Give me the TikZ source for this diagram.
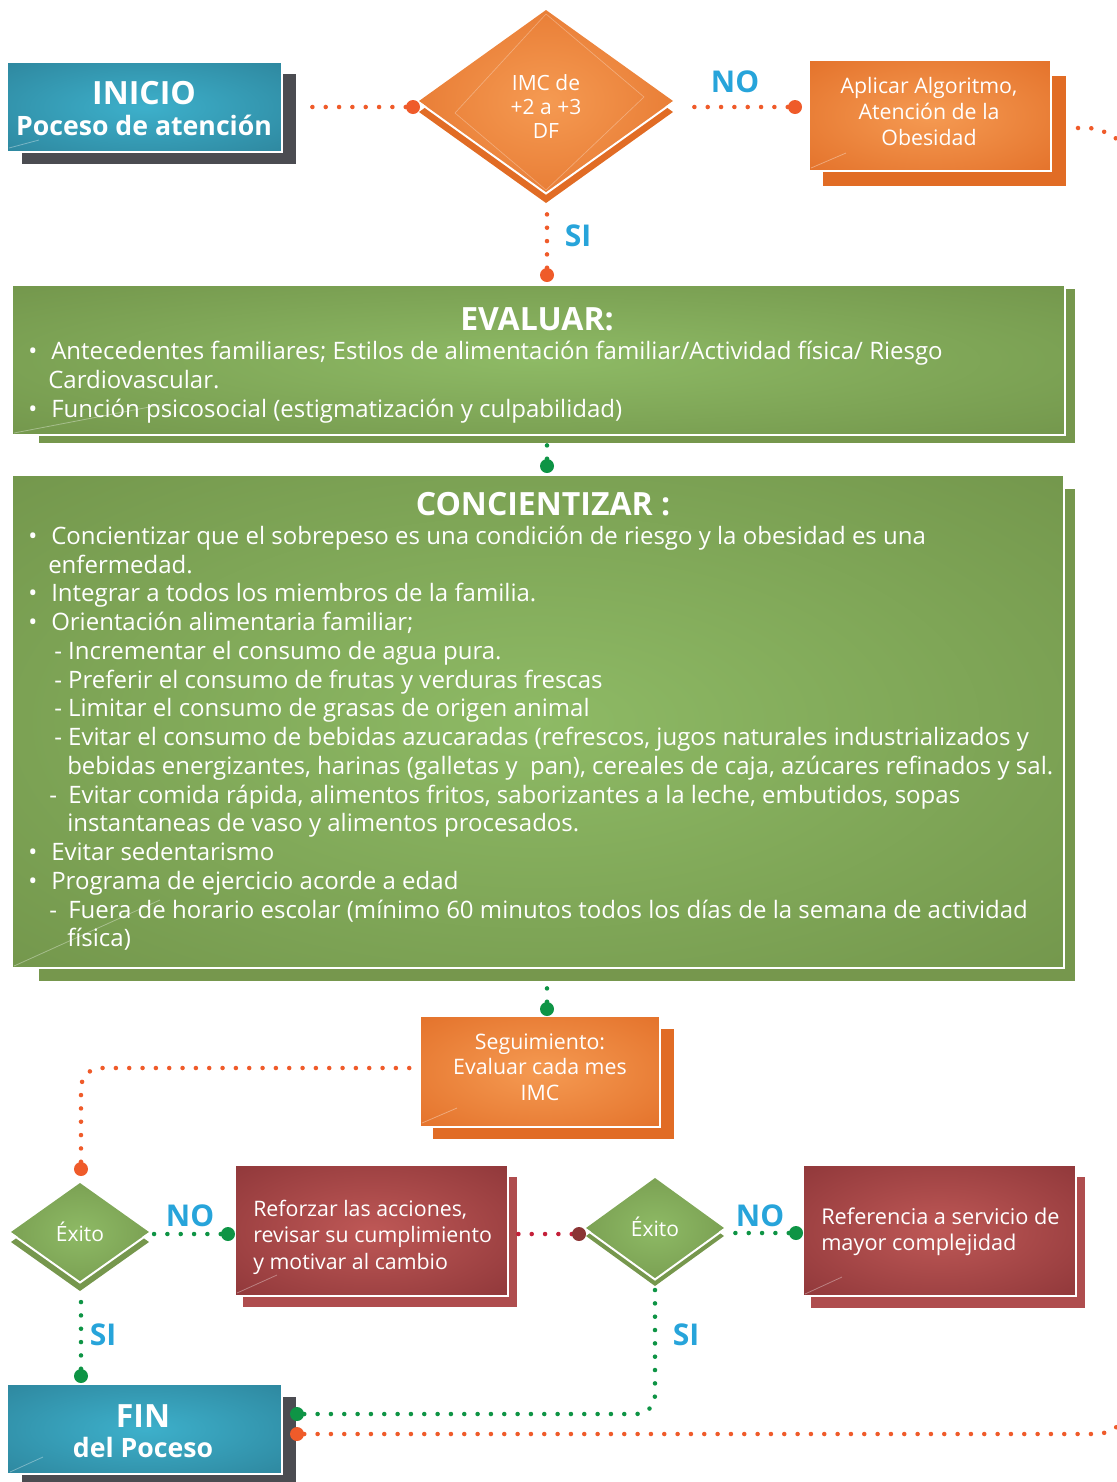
\documentclass[tikz,border=0pt]{standalone}
\usepackage{fontspec}
\setmainfont{Open Sans}
\usetikzlibrary{shapes.geometric,calc}
\definecolor{tealE}{HTML}{2C8198}
\definecolor{tealC}{HTML}{3DB0CB}
\definecolor{grayS}{HTML}{4B4C51}
\definecolor{orE}{HTML}{E16C25}
\definecolor{orC}{HTML}{F59A52}
\definecolor{grE}{HTML}{6F9148}
\definecolor{grC}{HTML}{8EBA65}
\definecolor{grS}{HTML}{76974D}
\definecolor{rdE}{HTML}{893336}
\definecolor{rdC}{HTML}{BE5856}
\definecolor{rdS}{HTML}{AF4D4E}
\definecolor{dotO}{HTML}{EF5B2A}
\definecolor{dotG}{HTML}{0E9445}
\definecolor{dotR}{HTML}{C4203A}
\definecolor{dotRB}{HTML}{8B3535}
\definecolor{lblue}{HTML}{27A4DA}
\pgfdeclareradialshading{tealglow}{\pgfpoint{0bp}{0bp}}{color(0bp)=(tealC); color(42bp)=(tealE); color(75bp)=(tealE)}
\pgfdeclareradialshading{orglow}{\pgfpoint{0bp}{0bp}}{color(0bp)=(orC); color(42bp)=(orE); color(75bp)=(orE)}
\pgfdeclareradialshading{grglow}{\pgfpoint{0bp}{0bp}}{color(0bp)=(grC); color(42bp)=(grE); color(75bp)=(grE)}
\pgfdeclareradialshading{rdglow}{\pgfpoint{0bp}{0bp}}{color(0bp)=(rdC); color(42bp)=(rdE); color(75bp)=(rdE)}
\pgfdeclarelayer{bg}
\pgfdeclarelayer{fg}
\pgfsetlayers{bg,main,fg}
\tikzset{
  boxn/.style={rectangle, inner sep=0pt, outer sep=0pt, shade},
  dia/.style={diamond, inner sep=0pt, outer sep=0pt, shade},
  wline/.style={white, line width=1.5pt},
  gloss/.style={white, opacity=0.35, line width=0.6pt},
  txt/.style={text=white, align=center, inner sep=0pt},
  bodyline/.style={text=white, inner sep=0pt, anchor=base west, font=\fontsize{18}{21.6}\selectfont},
  ttl/.style={text=white, inner sep=0pt, anchor=base, font=\fontsize{24}{28}\selectfont\bfseries},
  endtxt/.style={text=white, inner sep=0pt, anchor=base, font=\fontsize{20}{24}\selectfont\bfseries},
  dotline/.style={line width=3.4pt, line cap=round, dash pattern=on 0pt off 10pt},
  bigdot/.style={circle, inner sep=0pt, minimum size=10.5pt},
  lbl/.style={text=lblue, inner sep=0pt, font=\fontsize{22.5}{24}\selectfont\bfseries},
}
\newcommand{\bul}{\makebox[17.25pt][l]{•}}
\begin{document}
\begin{tikzpicture}[x=0.75pt,y=-0.75pt]
\useasboundingbox (0,0) rectangle (1117,1482);

% ---------- boxes ----------
\node[boxn, shading=tealglow, minimum width=204.75pt, minimum height=66pt] (inicio) at (144.5,107) {};
\node[dia, shading=orglow, minimum width=190.5pt, minimum height=136.5pt] (imc) at (546,101) {};
\node[boxn, shading=orglow, minimum width=180pt, minimum height=81.75pt] (aplicar) at (930,115.5) {};
\node[boxn, shading=grglow, minimum width=788.25pt, minimum height=111pt] (evaluar) at (538.5,360) {};
\node[boxn, shading=grglow, minimum width=787.5pt, minimum height=368.25pt] (conc) at (538,721.5) {};
\node[boxn, shading=orglow, minimum width=178.5pt, minimum height=81.75pt] (seguim) at (540,1071.5) {};
\node[dia, shading=grglow, minimum width=103.5pt, minimum height=73.5pt] (exito1) at (80,1232) {};
\node[boxn, shading=rdglow, minimum width=203.25pt, minimum height=96.75pt] (reforzar) at (371.5,1230.5) {};
\node[dia, shading=grglow, minimum width=103.5pt, minimum height=75pt] (exito2) at (655,1228) {};
\node[boxn, shading=rdglow, minimum width=203.25pt, minimum height=96.75pt] (referencia) at (939.5,1230.5) {};
\node[boxn, shading=tealglow, minimum width=204.75pt, minimum height=66pt] (fin) at (144.5,1429) {};

% ---------- shadows ----------
\begin{pgfonlayer}{bg}
\fill[grayS] ($(inicio.north west)+(14,11)$) rectangle ($(inicio.south east)+(15,13)$);
\fill[orE] ($(imc.west)+(0,11)$) -- ($(imc.south)+(0,11)$) -- ($(imc.east)+(0,11)$) -- ($(imc.north)+(0,11)$) -- cycle;
\fill[orE] ($(aplicar.north west)+(13,15)$) rectangle ($(aplicar.south east)+(16,16)$);
\fill[grS] ($(evaluar.north west)+(26,3)$) rectangle ($(evaluar.south east)+(11,9)$);
\fill[grS] ($(conc.north west)+(26,13)$) rectangle ($(conc.south east)+(12,14)$);
\fill[orE] ($(seguim.north west)+(12,12)$) rectangle ($(seguim.south east)+(15,13)$);
\fill[grS] ($(exito1.west)+(0,10)$) -- ($(exito1.south)+(0,10)$) -- ($(exito1.east)+(0,10)$) -- ($(exito1.north)+(0,10)$) -- cycle;
\fill[rdS] ($(reforzar.north west)+(7,11)$) rectangle ($(reforzar.south east)+(10,12)$);
\fill[grS] ($(exito2.west)+(0,8)$) -- ($(exito2.south)+(0,8)$) -- ($(exito2.east)+(0,8)$) -- ($(exito2.north)+(0,8)$) -- cycle;
\fill[rdS] ($(referencia.north west)+(7,11)$) rectangle ($(referencia.south east)+(10,13)$);
\fill[grayS] ($(fin.north west)+(14,12)$) rectangle ($(fin.south east)+(15,9)$);
\end{pgfonlayer}

% ---------- white borders ----------
\foreach \n in {inicio,aplicar,evaluar,conc,seguim,reforzar,referencia,fin}{
  \draw[wline] ($(\n.north east)+(1,0)$) -- ($(\n.south east)+(1,1)$) -- ($(\n.south west)+(0,1)$);
}
\foreach \n in {imc,exito1,exito2}{
  \draw[wline] ($(\n.west)+(0,1.5)$) -- ($(\n.south)+(0,1.5)$) -- ($(\n.east)+(0,1.5)$);
}
\draw[white, opacity=0.3, line width=0.5pt] (546,14) -- (644,97) -- (546,190) -- (455,113) -- cycle;

% ---------- gloss lines ----------
\draw[gloss] (9,148) -- (39,140);
\draw[gloss] (811,168) -- (846,153);
\draw[gloss] (14,433) -- (160,405);
\draw[gloss] (14,966) -- (160,900);
\draw[gloss] (422,1123) -- (457,1108);
\draw[gloss] (237,1293) -- (277,1275);
\draw[gloss] (805,1294) -- (842,1277);
\draw[gloss] (10,1472) -- (43,1457);

% ---------- texts ----------
\node[ttl] (inicioT1) at (144,104) {INICIO};
\node[endtxt] (inicioT2) at (144,135) {Poceso de atención};
\node[txt, font=\fontsize{15.75}{18}\selectfont] (imcT) at (546,107) {IMC de\\+2 a +3\\DF};
\node[txt, font=\fontsize{16}{19.5}\selectfont] (aplicarT) at (929,111) {Aplicar Algoritmo,\\Atención de la\\Obesidad};

\node[ttl] (evalT) at (537,330) {EVALUAR:};
\node[bodyline] (ev1) at (28,359.5) {\bul Antecedentes familiares; Estilos de alimentación familiar/Actividad física/ Riesgo};
\node[bodyline] (ev2) at (48,388.5) {Cardiovascular.};
\node[bodyline] (ev3) at (28,417.5) {\bul Función psicosocial (estigmatización y culpabilidad)};

\node[ttl] (concT) at (543,515) {CONCIENTIZAR :};
\node[bodyline] (c1) at (28,544.3) {\bul Concientizar que el sobrepeso es una condición de riesgo y la obesidad es una};
\node[bodyline] (c2) at (48,573.05) {enfermedad.};
\node[bodyline] (c3) at (28,601.8) {\bul Integrar a todos los miembros de la familia.};
\node[bodyline] (c4) at (28,630.55) {\bul Orientación alimentaria familiar;};
\node[bodyline] (c5) at (54,659.3) {- Incrementar el consumo de agua pura.};
\node[bodyline] (c6) at (54,688.05) {- Preferir el consumo de frutas y verduras frescas};
\node[bodyline] (c7) at (54,716.8) {- Limitar el consumo de grasas de origen animal};
\node[bodyline] (c8) at (54,745.55) {- Evitar el consumo de bebidas azucaradas (refrescos, jugos naturales industrializados y};
\node[bodyline] (c9) at (67,774.3) {bebidas energizantes, harinas (galletas y~ pan), cereales de caja, azúcares refinados y sal.};
\node[bodyline] (c10) at (49,803.05) {\makebox[14.25pt][l]{-}Evitar comida rápida, alimentos fritos, saborizantes a la leche, embutidos, sopas};
\node[bodyline] (c11) at (67,831.8) {instantaneas de vaso y alimentos procesados.};
\node[bodyline] (c12) at (28,860.55) {\bul Evitar sedentarismo};
\node[bodyline] (c13) at (28,889.3) {\bul Programa de ejercicio acorde a edad};
\node[bodyline] (c14) at (49,918.05) {\makebox[14.25pt][l]{-}Fuera de horario escolar (mínimo 60 minutos todos los días de la semana de actividad};
\node[bodyline] (c15) at (67,946.8) {física)};

\node[txt, font=\fontsize{16}{19.2}\selectfont] (seguimT) at (540,1067) {Seguimiento:\\Evaluar cada mes\\IMC};
\node[txt, font=\fontsize{15.75}{18}\selectfont] (ex1T) at (80,1232) {Éxito};
\node[txt, font=\fontsize{15.75}{18}\selectfont] (ex2T) at (655,1227) {Éxito};
\node[txt, align=left, anchor=west, font=\fontsize{16}{19.8}\selectfont] (reforzarT) at (253,1237) {Reforzar las acciones,\\revisar su cumplimiento\\y motivar al cambio};
\node[txt, align=left, anchor=west, font=\fontsize{16.3}{19.8}\selectfont] (referenciaT) at (821,1231.5) {Referencia a servicio de\\mayor complejidad};
\node[ttl] (finT1) at (143,1427) {FIN};
\node[endtxt] (finT2) at (143,1457) {del Poceso};

% ---------- labels ----------
\node[lbl] (no1) at (735,82) {NO};
\node[lbl] (si1) at (578,236) {SI};
\node[lbl] (no2) at (190,1216) {NO};
\node[lbl] (no3) at (760,1216) {NO};
\node[lbl] (si2) at (103,1335) {SI};
\node[lbl] (si3) at (686,1335) {SI};

% ---------- end dots ----------
\begin{pgfonlayer}{fg}
\node[bigdot, fill=dotO] (d1) at (413,107) {};
\node[bigdot, fill=dotO] (d2) at (795,107) {};
\node[bigdot, fill=dotO] (d3) at (547,275) {};
\node[bigdot, fill=dotG] (d4) at (547,466) {};
\node[bigdot, fill=dotG] (d5) at (547,1009) {};
\node[bigdot, fill=dotO] (d6) at (81,1169) {};
\node[bigdot, fill=dotG] (d7) at (228,1234) {};
\node[bigdot, fill=dotRB] (d8) at (579,1234) {};
\node[bigdot, fill=dotG] (d9) at (796,1233) {};
\node[bigdot, fill=dotG] (d10) at (81,1376) {};
\node[bigdot, fill=dotG] (d11) at (297,1414) {};
\node[bigdot, fill=dotO] (d12) at (297,1434) {};
\end{pgfonlayer}
\coordinate (aend) at (1124,146);
\coordinate (oend) at (1126,1418);

% ---------- connectors ----------
\draw[dotline, draw=dotO, shorten >=15pt] (d1) -- (d1 -| inicio.east);
\draw[dotline, draw=dotO, shorten >=7.5pt] (d2) -- (d2 -| imc.east);
\draw[dotline, draw=dotO, shorten >=16.5pt] (d3) -- (d3 |- imc.south);
\draw[dotline, draw=dotO, rounded corners=14pt] ($(aplicar.east)+(28,12.5)$) -- (1106,128) -- (aend);
\draw[dotline, draw=dotG] (d4) -- (d4 |- evaluar.south);
\draw[dotline, draw=dotG, shorten >=8pt] (d5) -- (d5 |- conc.south);
\draw[dotline, draw=dotO, rounded corners=15pt, shorten >=6.5pt] (d6) |- ($(seguim.west)+(0,-3.5)$);
\draw[dotline, draw=dotG, shorten >=1pt] (d7) -- (d7 -| exito1.east);
\draw[dotline, draw=dotR] (d8) -- (d8 -| reforzar.east);
\draw[dotline, draw=dotG, shorten >=1pt] (d9) -- (d9 -| exito2.east);
\draw[dotline, draw=dotG, shorten >=9pt] (d10) -- (d10 |- exito1.south);
\draw[dotline, draw=dotG, rounded corners=14pt, shorten >=9pt] (d11) -| (exito2.south);
\draw[dotline, draw=dotO, rounded corners=10pt] (d12) -- (1110,1434) -- (oend);
\end{tikzpicture}
\end{document}
